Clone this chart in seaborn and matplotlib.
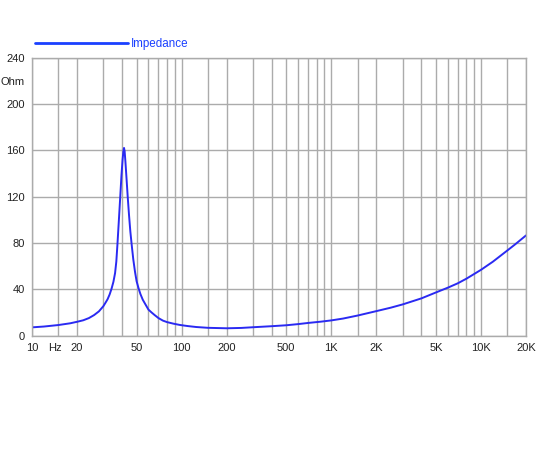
import matplotlib
matplotlib.use("Agg")
import matplotlib.pyplot as plt
import seaborn as sns
from matplotlib.lines import Line2D

# impedance curve (Hz, Ohm)
freq = [10, 12, 15, 18, 20, 22, 24, 26, 28, 30, 31, 32, 33, 34, 35, 35.9, 36.6,
        37.2, 38, 38.8, 39.6, 40.3, 40.8, 41.2, 41.6, 42.1, 42.8, 43.6, 44.5,
        45.4, 46.4, 47.5, 48.8, 50, 51.5, 53, 55, 57, 60, 63, 66, 70, 75, 80,
        88, 97, 110, 125, 150, 200, 250, 300, 400, 500, 600, 700, 850, 1000,
        1200, 1500, 2000, 2500, 3000, 4000, 5000, 6000, 7000, 8000, 10000,
        12000, 15000, 17000, 20000]
impedance = [7.2, 7.9, 9.2, 10.7, 12, 13.3, 15.2, 17.8, 21, 25.5, 28.5, 31.5,
             35.5, 40.5, 46.5, 54, 64, 78, 98, 118, 138, 152, 159, 162, 159,
             150, 136, 120, 104, 90, 78, 66, 55, 47, 41, 36, 31, 27.5, 22.5,
             20, 17.8, 15.2, 13, 11.7, 10.4, 9.3, 8.3, 7.5, 6.8, 6.4, 6.7, 7.3,
             8.2, 9.0, 10.0, 11.0, 12.1, 13.2, 14.8, 17.4, 21.2, 24.2, 27.0,
             32.2, 37.3, 41.4, 45.2, 49.2, 56.8, 63.8, 73.5, 79.0, 86.5]

grid_x = [10, 15, 20, 30, 40, 50, 60, 70, 80, 90, 100, 150, 200, 300, 400, 500,
          600, 700, 800, 900, 1000, 1500, 2000, 3000, 4000, 5000, 6000, 7000,
          8000, 9000, 10000, 15000, 20000]
x_labels = {10: "10", 20: "20", 50: "50", 100: "100", 200: "200", 500: "500",
            1000: "1K", 2000: "2K", 5000: "5K", 10000: "10K", 20000: "20K"}
y_ticks = [0, 40, 80, 120, 160, 200, 240]

curve_color = "#2a2af2"
leg_color = "#1a40ff"
grid_color = "#ababab"

sns.set_style("white")
plt.rcParams["font.family"] = ["Liberation Sans", "DejaVu Sans"]

fig = plt.figure(figsize=(5.5, 4.5), dpi=100)
ax = fig.add_axes([32 / 550, 1 - 335.7 / 450, 494 / 550, 278.2 / 450])

sns.lineplot(x=freq, y=impedance, ax=ax, color=curve_color, linewidth=1.4)

ax.set_xscale("log")
ax.set_xlim(10, 20000)
ax.set_ylim(0, 240)

ax.set_xticks(grid_x, [x_labels.get(f, "") for f in grid_x])
ax.set_xticks([14.2], ["Hz"], minor=True)
ax.set_yticks(y_ticks, [str(v) for v in y_ticks])
ax.set_yticks([220], ["Ohm"], minor=True)

ax.grid(True, which="major", color=grid_color, linewidth=1)
ax.tick_params(which="major", length=3, width=1, color=grid_color,
               labelsize=8, labelcolor="#222222", pad=2)
ax.tick_params(which="minor", length=0, labelsize=8,
               labelcolor="#222222", pad=5)
for s in ax.spines.values():
    s.set_color(grid_color)
    s.set_linewidth(1)
ax.set_xlabel("")
ax.set_ylabel("")

fig.legend(handles=[Line2D([], [], color=leg_color, linewidth=2)],
           labels=["Impedance"], loc="center left",
           bbox_to_anchor=(35 / 550, 1 - 44 / 450), frameon=False,
           handlelength=8.0, handletextpad=0.25, borderpad=0,
           borderaxespad=0, fontsize=8.4, labelcolor=leg_color)

fig.savefig("out.png", dpi=100)
